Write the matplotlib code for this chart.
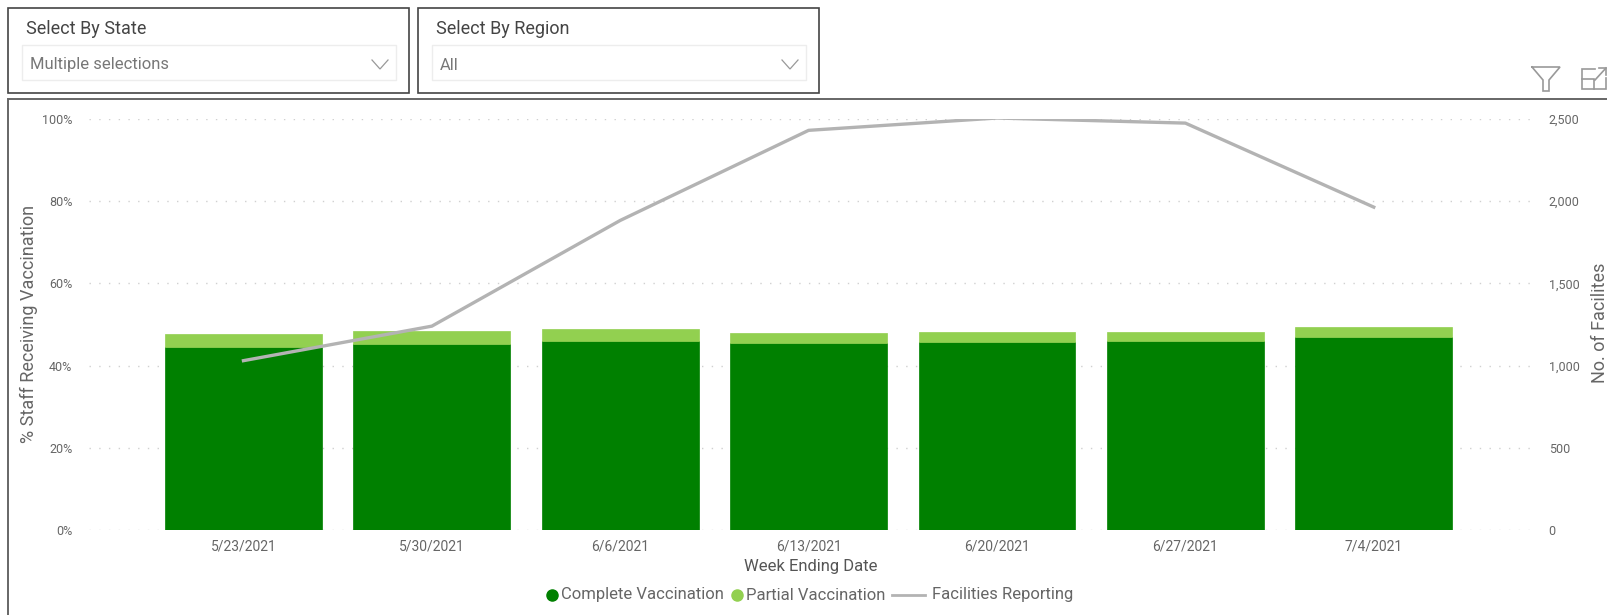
import matplotlib
matplotlib.use('Agg')
import matplotlib.pyplot as plt
from matplotlib.lines import Line2D
from matplotlib.patches import Rectangle
from matplotlib.ticker import FuncFormatter

plt.rcParams['font.family'] = ['Roboto', 'DejaVu Sans']

W, H = 1608, 615

weeks = ['5/23/2021', '5/30/2021', '6/6/2021', '6/13/2021', '6/20/2021', '6/27/2021', '7/4/2021']
complete = [44.6, 45.3, 46.1, 45.4, 45.8, 45.9, 46.9]
partial = [3.2, 3.1, 2.7, 2.6, 2.4, 2.3, 2.6]
facilities = [1030, 1240, 1883, 2431, 2506, 2475, 1964]
pct_ticks = [0, 20, 40, 60, 80, 100]
fac_ticks = [0, 500, 1000, 1500, 2000, 2500]
series_names = ['Complete Vaccination', 'Partial Vaccination', 'Facilities Reporting']

DARK = '#008000'
LIGHT = '#92D050'
GREY = '#B3B3B3'
TXT = '#666666'


def fx(x):
    return x / W


def fy(y):
    return 1 - y / H


def box(x0, y0, x1, y1, edge, lw):
    fig.add_artist(Rectangle((fx(x0), fy(y1)), (x1 - x0) / W, (y1 - y0) / H, fill=False,
                             edgecolor=edge, linewidth=lw, transform=fig.transFigure))


def seg(xs, ys, color, lw):
    fig.add_artist(Line2D([fx(x) for x in xs], [fy(y) for y in ys], color=color, linewidth=lw,
                          transform=fig.transFigure, solid_joinstyle='miter'))


def dot(x, y, color):
    fig.add_artist(Line2D([fx(x)], [fy(y)], marker='o', markersize=8, color=color, linestyle='none',
                          transform=fig.transFigure))


def label(x, y, s, size=12, color=TXT, **kw):
    fig.text(fx(x), fy(y), s, fontsize=size, color=color, va='center', **kw)


fig = plt.figure(figsize=(W / 100, H / 100), dpi=100, facecolor='white')
ax = fig.add_axes([fx(89), fy(530), (1532 - 89) / W, (530 - 119) / H])
pos = list(range(len(weeks)))

ax.bar(pos, complete, width=0.833, color=DARK, edgecolor=DARK, linewidth=0.5, zorder=2)
ax.bar(pos, partial, width=0.833, bottom=complete, color=LIGHT, edgecolor=LIGHT, linewidth=0.5, zorder=2)
ax.set_xlim(-0.82, 6.84)
ax.set_ylim(0, 100)
ax.set_yticks(pct_ticks)
ax.yaxis.set_major_formatter(FuncFormatter(lambda v, p: f'{v:.0f}%'))
ax.set_xticks(pos)
ax.set_xticklabels(weeks)
ax.grid(axis='y', linestyle=(0, (1, 6)), color='#D0D0D0', linewidth=1, zorder=0)
ax.tick_params(length=0, labelsize=9, labelcolor=TXT)
ax.tick_params(axis='x', pad=7, labelsize=10)
ax.tick_params(axis='y', pad=12)
for s in ax.spines.values():
    s.set_visible(False)

ax2 = ax.twinx()
ax2.plot(pos, facilities, color=GREY, linewidth=2.4, zorder=3)
ax2.set_ylim(0, 2500)
ax2.set_yticks(fac_ticks)
ax2.yaxis.set_major_formatter(FuncFormatter(lambda v, p: f'{v:,.0f}'))
ax2.tick_params(length=0, labelsize=9, labelcolor=TXT, pad=12)
for s in ax2.spines.values():
    s.set_visible(False)

# axis titles
label(29, 324, '% Staff Receiving Vaccination', size=13, rotation=90, ha='center')
label(1600, 323, 'No. of Facilites', size=13, rotation=90, ha='center')
label(811, 567, 'Week Ending Date', color='#555555', ha='center')

# legend
dot(552, 595, DARK)
label(561, 595, series_names[0])
dot(737, 595, LIGHT)
label(746, 595, series_names[1])
seg([892, 925], [595, 595], GREY, 2)
label(932, 595, series_names[2])

# slicers
box(8, 8, 409, 93, '#444444', 1.2)
box(418, 8, 819, 93, '#444444', 1.2)
box(22, 45, 396, 80, '#EDEDED', 1)
box(432, 45, 806, 80, '#EDEDED', 1)
label(26, 29, 'Select By State', size=13, color='#444444')
label(436, 29, 'Select By Region', size=13, color='#444444')
label(30, 65, 'Multiple selections', color='#777777')
label(440, 65, 'All', color='#777777')
seg([372, 380, 388], [60, 69, 60], '#999999', 0.9)
seg([782, 790, 798], [60, 69, 60], '#999999', 0.9)

# chart frame, only left and top show in the crop
seg([8, 8, W], [H, 99, 99], '#666666', 1.4)

# visual header icons
seg([1532, 1560, 1549, 1549, 1543, 1543, 1532], [67, 67, 80, 91, 91, 80, 67], '#999999', 1.2)
seg([1595, 1582, 1582, 1606, 1606], [69, 69, 89, 89, 78], '#999999', 1.2)
seg([1582, 1594, 1594], [79, 79, 89], '#999999', 1.2)
seg([1595, 1606], [80, 68], '#999999', 1.2)
seg([1599, 1606, 1606], [68, 68, 75], '#999999', 1.2)

fig.savefig('out.png', dpi=100)
